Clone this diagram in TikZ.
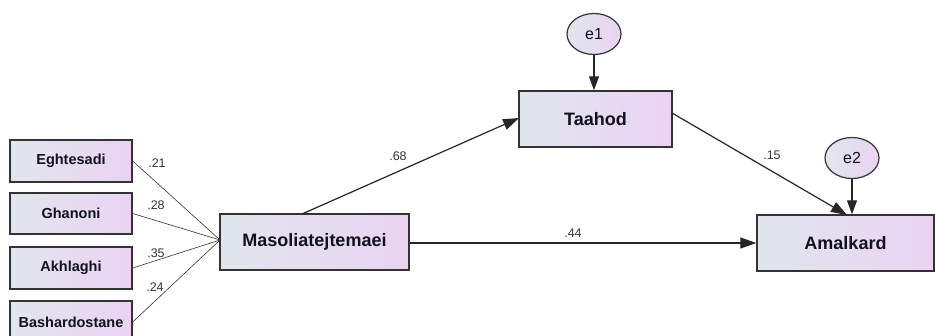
\documentclass[tikz,border=0pt]{standalone}
\usepackage{fontspec}
\setmainfont{Liberation Sans}
\usetikzlibrary{arrows.meta,shapes.geometric}
\definecolor{boxleft}{HTML}{E1E6EE}
\definecolor{boxright}{HTML}{EAD3F2}
\definecolor{edgegray}{HTML}{333333}
\definecolor{textnavy}{HTML}{10121E}
\tikzset{
  varbox/.style={draw=edgegray, line width=1.4pt, left color=boxleft, right color=boxright,
    inner sep=0pt, text=textnavy, font=\bfseries\fontsize{14.5}{16}\selectfont},
  bigbox/.style={varbox, minimum height=56pt, font=\bfseries\fontsize{18}{20}\selectfont},
  errnode/.style={ellipse, draw=edgegray, line width=1.2pt, left color=boxleft, right color=boxright,
    minimum width=54pt, minimum height=41pt, inner sep=0pt, text=textnavy, font=\fontsize{16}{18}\selectfont},
  path/.style={draw=black!85, line width=1.2pt, -{Triangle[length=16pt,width=11pt]}},
  thin path/.style={draw=black!80, line width=0.6pt},
  coef/.style={font=\fontsize{12.5}{14}\selectfont, text=black!80, inner sep=0pt}
}
\begin{document}
\begin{tikzpicture}[x=1pt,y=-1pt]
\useasboundingbox (0,0) rectangle (935,336);
\begin{scope}
\clip (0,0) rectangle (935,336);
% left indicator boxes
\node[varbox, minimum width=122pt, minimum height=42pt] (egh) at (71,161) {Eghtesadi};
\node[varbox, minimum width=122pt, minimum height=41pt] (gha) at (71,213.5) {Ghanoni};
\node[varbox, minimum width=122pt, minimum height=42pt] (akh) at (71,268) {Akhlaghi};
\node[varbox, minimum width=122pt, minimum height=42pt] (bas) at (71,322) {Bashardostane};
% main boxes
\node[bigbox, minimum width=189pt] (mas) at (314.5,242) {Masoliatejtemaei};
\node[bigbox, minimum width=153pt] (taa) at (595.5,119) {Taahod};
\node[bigbox, minimum width=177pt] (ama) at (845.5,243) {Amalkard};
% error terms
\node[errnode] (e1) at (594,34) {e1};
\node[errnode] (e2) at (852,158) {e2};
\coordinate (conv) at (220,240);
% indicator lines
\draw[thin path] (egh.east) -- (conv);
\draw[thin path] (gha.east) -- (conv);
\draw[thin path] (akh.east) -- (conv);
\draw[thin path] (bas.east) -- (conv);
\node[coef] at (157,163) {.21};
\node[coef] at (156,205) {.28};
\node[coef] at (156,253) {.35};
\node[coef] at (155,287) {.24};
% structural paths
\coordinate (masTop) at (302,214);
\coordinate (taaIn) at (519,118);
\draw[path] (masTop) -- (taaIn);
\node[coef] at (398,156) {.68};
\coordinate (taaOut) at (672,113);
\coordinate (amaIn) at (847,215);
\draw[path] (taaOut) -- (amaIn);
\node[coef] at (772,155) {.15};
\draw[path] (mas.east |- 0,243) -- (ama.west |- 0,243);
\node[coef] at (573,233) {.44};
\draw[path, -{Triangle[length=14pt,width=10pt]}] (e1.south) -- (taa.north -| e1.south);
\draw[path, -{Triangle[length=14pt,width=10pt]}] (e2.south) -- (ama.north -| e2.south);
\end{scope}
\end{tikzpicture}
\end{document}
